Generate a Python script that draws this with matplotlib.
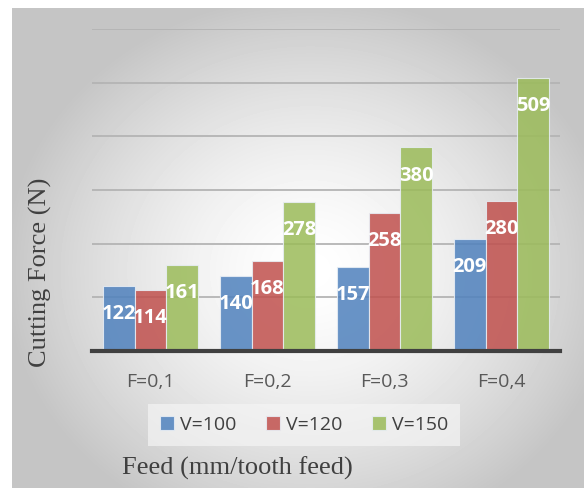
import matplotlib.pyplot as plt
import numpy as np

# fuerza de corte por avance y velocidad
avances = ["F=0,1", "F=0,2", "F=0,3", "F=0,4"]
v100 = [122, 140, 157, 209]
v120 = [114, 168, 258, 280]
v150 = [161, 278, 380, 509]
series = ["V=100", "V=120", "V=150"]
colores = ["#4f81bd", "#c0504d", "#9bbb59"]

fig = plt.figure(figsize=(5.84, 4.88), dpi=100)
fig.patch.set_facecolor("white")

# fondo con degradado radial
fondo = fig.add_axes([12 / 584, 0, 1 - 12 / 584, 1 - 8 / 488], zorder=-10)
yy, xx = np.mgrid[8:488, 12:584]
r = np.sqrt(((xx - 310) / 290.0) ** 2 + ((yy - 270) / 260.0) ** 2)
gris = np.clip(1 - 0.21 * r ** 1.5, 0.77, 1)
fondo.imshow(gris, cmap="gray", vmin=0, vmax=1, aspect="auto", interpolation="bilinear")
fondo.axis("off")

ax = fig.add_axes([92 / 584, 137 / 488, 468 / 584, 322 / 488])
ax.set_facecolor("none")

x = np.arange(len(avances))
ancho = 0.27
for i, (valores, nombre, color) in enumerate(zip([v100, v120, v150], series, colores)):
    barras = ax.bar(x + (i - 1) * ancho, valores, ancho, color=color, alpha=0.85,
                    edgecolor="#e8eef5", linewidth=0.8, label=nombre, zorder=3)
    for b, v in zip(barras, valores):
        ax.annotate(str(v), (b.get_x() + b.get_width() / 2, v), xytext=(0, -20.5),
                    textcoords="offset points", ha="center", va="center",
                    color="white", fontsize=14.5, fontweight="bold",
                    family="Open Sans", zorder=5)

ax.set_xlim(-0.5, 3.5)
ax.set_ylim(0, 600)
ax.set_yticks(range(100, 601, 100))
ax.yaxis.grid(True, color="#b4b4b4", linewidth=1.3, zorder=0)
ax.tick_params(axis="y", left=False, labelleft=False)
ax.tick_params(axis="x", length=0, pad=16, labelsize=14, labelcolor="#595959")
ax.set_xticks(x)
ax.set_xticklabels(avances, family="Open Sans")
for lado in ["top", "right", "left"]:
    ax.spines[lado].set_visible(False)
ax.spines["bottom"].set_color("#404040")
ax.spines["bottom"].set_linewidth(3)
ax.spines["bottom"].set_zorder(4)

leg = fig.legend(loc="center", bbox_to_anchor=(304 / 584, 1 - 425 / 488), ncol=3,
                 frameon=True, fancybox=False, handlelength=0.75, handleheight=0.75,
                 handletextpad=0.3, columnspacing=1.5, borderpad=0.6,
                 prop={"family": "Open Sans", "size": 14})
leg.get_frame().set_facecolor("#f4f4f4")
leg.get_frame().set_edgecolor("none")
leg.get_frame().set_alpha(0.7)
for t in leg.get_texts():
    t.set_color("#404040")

fig.text(122 / 584, 1 - 468 / 488, "Feed (mm/tooth feed)", family="Liberation Serif",
         fontsize=19, color="#404040", ha="left", va="center")
fig.text(40 / 584, 1 - 272 / 488, "Cutting Force (N)", family="Liberation Serif",
         fontsize=19, color="#404040", ha="center", va="center", rotation=90)

fig.savefig("out.png", dpi=100)
